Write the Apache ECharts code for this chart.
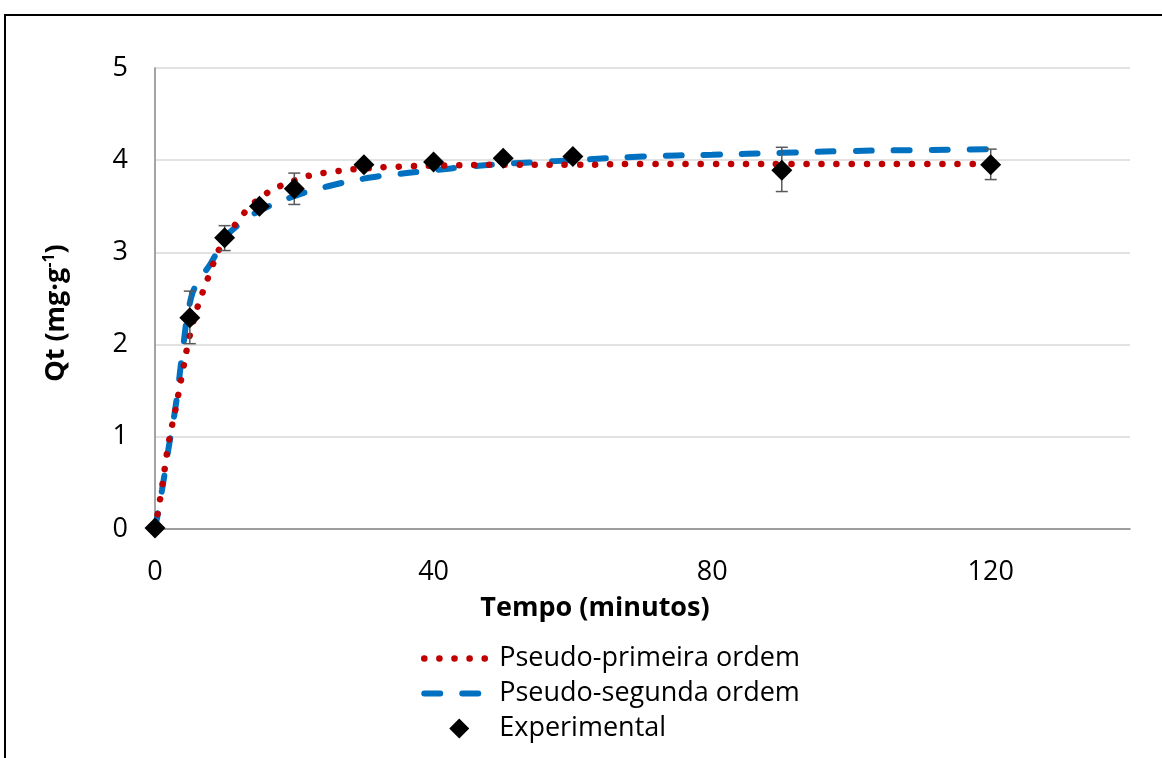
<!DOCTYPE html>
<html>
<head>
<meta charset="utf-8">
<script src="https://cdn.jsdelivr.net/npm/echarts@6/dist/echarts.min.js"></script>
<style>
html,body{margin:0;padding:0;background:#fff;}
#c1{width:1162px;height:758px;}
</style>
</head>
<body>
<div id="c1"></div>
<script type="text/javascript">
// experimental points (t in minutes, Qt in mg/g)
const timeExp = [0, 5, 10, 15, 20, 30, 40, 50, 60, 90, 120]
const qExp = [0.01, 2.29, 3.16, 3.50, 3.69, 3.95, 3.98, 4.02, 4.04, 3.89, 3.95]
const errLow = [null, 2.01, 3.02, null, 3.52, null, null, null, null, 3.66, 3.79]
const errHigh = [null, 2.58, 3.29, null, 3.86, null, null, null, null, 4.14, 4.12]

// pseudo-primeira ordem
const timePfo = [0, 1, 2, 3, 4, 5, 6, 7, 8, 9, 10, 12, 14, 16, 18, 20, 22, 25, 30, 35, 40, 50, 60, 70, 80, 90, 100, 110, 120]
const qPfo = [0, 0.45, 0.95, 1.32, 1.72, 2.10, 2.38, 2.60, 2.80, 3.00, 3.13, 3.35, 3.52, 3.64, 3.72, 3.78, 3.83, 3.87, 3.91, 3.93, 3.94, 3.95, 3.95, 3.96, 3.96, 3.96, 3.96, 3.96, 3.96]

// pseudo-segunda ordem
const timePso = [0, 1, 2, 3, 4, 5, 6, 8, 10, 12, 15, 20, 25, 30, 35, 40, 45, 50, 55, 60, 70, 80, 90, 100, 110, 120]
const qPso = [0, 0.42, 0.90, 1.35, 1.95, 2.45, 2.66, 2.88, 3.15, 3.30, 3.45, 3.61, 3.72, 3.80, 3.85, 3.89, 3.93, 3.96, 3.98, 4.00, 4.04, 4.06, 4.08, 4.10, 4.11, 4.12]

const xTicks = { min: 0, max: 140, interval: 40 }
const yTicks = { min: 0, max: 5, interval: 1 }

const font = '"Open Sans", Lato, sans-serif'

function zip(a, b){
    let out = []
    for(let i = 0; i < a.length; ++i){
        out.push([a[i], b[i]])
    }
    return out
}

let errData = []
for(let i = 0; i < timeExp.length; ++i){
    if(errLow[i] !== null){
        errData.push([timeExp[i], errLow[i], errHigh[i]])
    }
}

let chart = echarts.init(document.getElementById('c1'))
let option = {
    animation: false,
    backgroundColor: '#fff',
    textStyle: { fontFamily: font },
    grid: { left: 155, right: 32, top: 68, bottom: 229 },
    graphic: [{
        type: 'rect',
        shape: { x: 5, y: 15, width: 1200, height: 800 },
        style: { fill: 'none', stroke: '#000', lineWidth: 2 },
        silent: true
    }, {
        // x axis title
        type: 'text',
        x: 595,
        y: 608,
        style: {
            text: 'Tempo (minutos)',
            font: 'bold 27px ' + font,
            fill: '#000',
            align: 'center',
            verticalAlign: 'middle'
        }
    }, {
        // y axis title
        type: 'text',
        x: 56,
        y: 313,
        rotation: Math.PI / 2,
        style: {
            text: '{n|Qt (mg·g}{s|-1}{n|)}',
            align: 'center',
            verticalAlign: 'middle',
            rich: {
                n: { fontSize: 27, fontWeight: 'bold', fill: '#000', fontFamily: font, lineHeight: 30 },
                s: { fontSize: 16, fontWeight: 'bold', fill: '#000', fontFamily: font, verticalAlign: 'top', lineHeight: 30 }
            }
        }
    }],
    legend: {
        orient: 'vertical',
        left: 416,
        top: 640,
        itemWidth: 70,
        itemHeight: 20,
        itemGap: 8,
        symbolKeepAspect: true,
        lineStyle: { width: 'inherit' },
        textStyle: { color: '#000', fontSize: 27, fontFamily: font },
        data: [
            { name: 'Pseudo-primeira ordem', itemStyle: { opacity: 0 } },
            { name: 'Pseudo-segunda ordem', itemStyle: { opacity: 0 } },
            { name: 'Experimental', icon: 'path://M0,-1L1,0L0,1L-1,0Z' }
        ]
    },
    xAxis: {
        type: 'value',
        min: xTicks.min,
        max: xTicks.max,
        interval: xTicks.interval,
        splitLine: { show: false },
        axisTick: { show: false },
        axisLine: { lineStyle: { color: '#868686', width: 1.5 } },
        axisLabel: { color: '#000', fontSize: 27, margin: 30, showMaxLabel: false }
    },
    yAxis: {
        type: 'value',
        min: yTicks.min,
        max: yTicks.max,
        interval: yTicks.interval,
        splitLine: { lineStyle: { color: '#d9d9d9', width: 1.5 } },
        axisTick: { show: false },
        axisLine: { show: true, lineStyle: { color: '#868686', width: 1.5 } },
        axisLabel: { color: '#000', fontSize: 27, margin: 27 }
    },
    series: [{
        name: 'Pseudo-primeira ordem',
        type: 'line',
        smooth: true,
        symbol: 'none',
        z: 3,
        itemStyle: { color: '#c00000' },
        lineStyle: { color: '#c00000', width: 6.5, type: [0.1, 15], cap: 'round' },
        data: zip(timePfo, qPfo)
    }, {
        name: 'Pseudo-segunda ordem',
        type: 'line',
        smooth: true,
        symbol: 'none',
        z: 2,
        itemStyle: { color: '#0070c0' },
        lineStyle: { color: '#0070c0', width: 6, type: [16, 22], cap: 'round' },
        data: zip(timePso, qPso)
    }, {
        name: 'erro',
        type: 'custom',
        z: 4,
        renderItem: function(params, api){
            let x = api.value(0)
            let lo = api.coord([x, api.value(1)])
            let hi = api.coord([x, api.value(2)])
            let w = 6
            let st = { stroke: '#595959', lineWidth: 1.5 }
            return {
                type: 'group',
                children: [
                    { type: 'line', shape: { x1: lo[0], y1: lo[1], x2: hi[0], y2: hi[1] }, style: st },
                    { type: 'line', shape: { x1: lo[0] - w, y1: lo[1], x2: lo[0] + w, y2: lo[1] }, style: st },
                    { type: 'line', shape: { x1: hi[0] - w, y1: hi[1], x2: hi[0] + w, y2: hi[1] }, style: st }
                ]
            }
        },
        encode: { x: 0, y: [1, 2] },
        data: errData
    }, {
        name: 'Experimental',
        type: 'scatter',
        symbol: 'diamond',
        symbolSize: 21,
        z: 5,
        itemStyle: { color: '#000', opacity: 1 },
        data: zip(timeExp, qExp)
    }]
}
chart.setOption(option)
</script>
</body>
</html>
